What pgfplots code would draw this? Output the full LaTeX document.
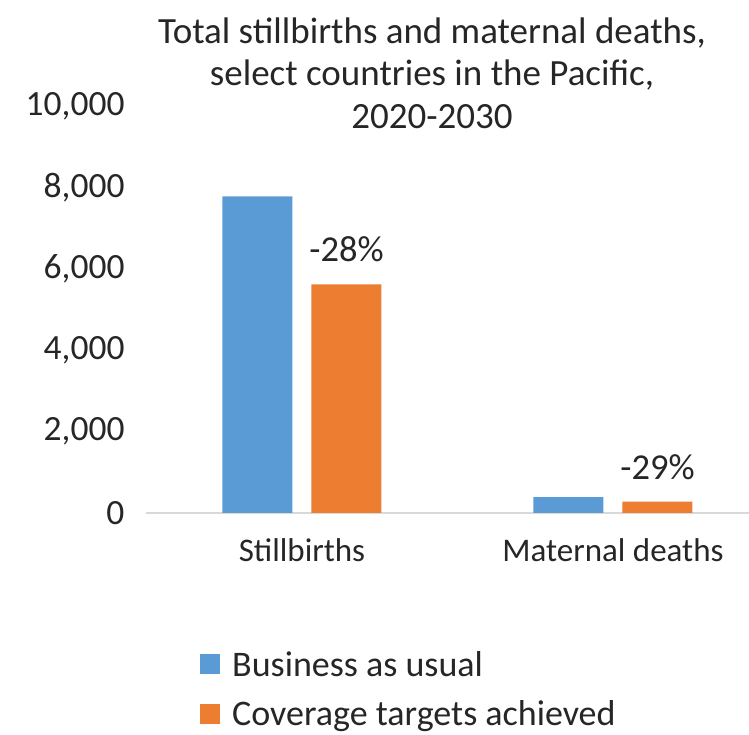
\documentclass[border=0pt]{standalone}
\usepackage{fontspec}
\setmainfont{Carlito}
\usepackage{pgfplots}
\pgfplotsset{compat=1.18}
\definecolor{bau}{HTML}{5B9BD5}
\definecolor{cta}{HTML}{ED7D31}
\definecolor{txt}{HTML}{262626}
\begin{document}
\begin{tikzpicture}
\begin{axis}[
  scale only axis, width=603.3pt, height=407pt,
  xmin=-0.5, xmax=1.44, ymin=0, ymax=10000,
  axis x line=bottom, axis y line=left,
  x axis line style={-, draw=black!15, line width=1.5pt},
  y axis line style={draw=none},
  major tick length=0pt,
  xtick={0,1}, xticklabels={Stillbirths,Maternal deaths},
  ytick={0,2000,4000,6000,8000,10000},
  scaled y ticks=false,
  /pgf/number format/1000 sep={,},
  /pgf/number format/assume math mode=true,
  tick label style={font=\fontsize{33}{36}\selectfont, text=txt},
  yticklabel style={anchor=east, xshift=-18.5pt, font=\fontsize{35.5}{38}\selectfont},
  xticklabel style={anchor=north, yshift=-22pt},
  ybar=19pt, bar width=70pt,
  clip=false,
  legend style={draw=none, fill=none, at={(axis description cs:0.0887,-0.433)}, anchor=west,
    inner sep=0pt, row sep=19pt, column sep=10pt,
    font=\fontsize{36}{40}\selectfont, text=txt},
  legend cell align=left,
]
\addplot[fill=bau, draw=none,
  legend image code/.code={\path[fill=bau] (0pt,-10pt) rectangle (20pt,10pt);}]
  coordinates {(0,7780) (1,390)};
\addplot[fill=cta, draw=none,
  legend image code/.code={\path[fill=cta] (0pt,-10pt) rectangle (20pt,10pt);},
  nodes near coords, point meta=explicit symbolic,
  nodes near coords style={anchor=center, yshift=35pt, font=\fontsize{36.5}{40}\selectfont, text=txt}]
  coordinates {(0,5620) [-28\%] (1,277) [-29\%]};
\legend{Business as usual, Coverage targets achieved}
\end{axis}
\node[align=center, font=\fontsize{37}{42.5}\selectfont, text=txt] at (285.5pt,440pt)
  {Total stillbirths and maternal deaths,\\ select countries in the Pacific,\\ 2020-2030};
\pgfresetboundingbox
\path[use as bounding box] (-146.5pt,-222pt) rectangle (602.5pt,513pt);
\end{tikzpicture}
\end{document}
